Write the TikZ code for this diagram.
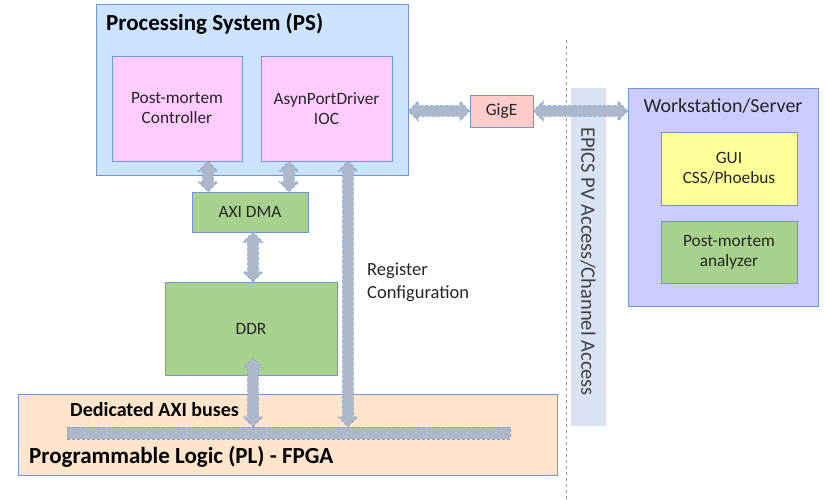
\documentclass[tikz,border=0pt]{standalone}
\usepackage{fontspec}
\setmainfont{Carlito}
\usetikzlibrary{shapes.arrows,calc}

\definecolor{psfill}{HTML}{CCE4FF}
\definecolor{edge}{HTML}{7096D6}
\definecolor{pinkfill}{HTML}{FFCCFF}
\definecolor{greenfill}{HTML}{A9D18E}
\definecolor{plfill}{HTML}{FFE5CC}
\definecolor{gigefill}{HTML}{FFCCCC}
\definecolor{wsfill}{HTML}{CCCCFF}
\definecolor{guifill}{HTML}{FFFF99}
\definecolor{bandfill}{HTML}{DAE3F3}
\definecolor{arrowfill}{HTML}{ADB9CA}
\definecolor{arrowedge}{HTML}{7F9FD8}
\definecolor{ink}{HTML}{262626}
\definecolor{bandink}{HTML}{404040}

\tikzset{
  box/.style={draw=edge, line width=0.8pt, inner sep=0pt, align=center, text=ink,
    font=\fontsize{17.3}{20}\selectfont},
  boldlabel/.style={text=black, inner sep=0pt},
  plainlabel/.style={text=ink, inner sep=0pt, font=\fontsize{18.5}{22.5}\selectfont},
  dblarr/.style={double arrow, fill=arrowfill, draw=arrowedge, densely dashed,
    line width=0.6pt, inner xsep=0pt, inner ysep=5pt, double arrow head extend=4.5pt},
  divider/.style={draw=gray!80, dashed, line width=0.6pt}
}

% block double arrow between two points
\newcommand\blockarrow[2]{%
  \path let \p1=(#1), \p2=(#2),
    \n1={veclen(\x2-\x1,\y2-\y1)}, \n2={atan2(\y2-\y1,\x2-\x1)} in
    node[dblarr, minimum height=\n1, rotate=\n2] at ($(\p1)!0.5!(\p2)$) {};}

\begin{document}
\begin{tikzpicture}[x=1pt,y=-1pt]
\useasboundingbox (0,0) rectangle (825,499);

% network boundary
\coordinate (divtop) at (566,40);
\coordinate (divbot) at (566,499);
\draw[divider] (divtop) -- (divbot);

% protocol band
\node[fill=bandfill, minimum width=35pt, minimum height=338pt, inner sep=0pt] (band) at (588.5,257) {};
\node[text=bandink, rotate=-90, inner sep=0pt, font=\fontsize{20.5}{24}\selectfont] (bandtext) at (588,261.5) {EPICS PV Access/Channel Access};

% processing system
\node[box, fill=psfill, minimum width=312pt, minimum height=171pt] (ps) at (252,89.5) {};
\node[boldlabel, anchor=west, font=\bfseries\fontsize{23}{27}\selectfont] (pstitle) at (106,24) {Processing System (PS)};
\node[box, fill=pinkfill, minimum width=130pt, minimum height=105pt] (pm) at (177,108.5) {Post-mortem\\Controller};
\node[box, fill=pinkfill, minimum width=131pt, minimum height=105pt] (asyn) at (326.5,108.5) {AsynPortDriver\\IOC};

% memory path
\node[box, fill=greenfill, minimum width=116pt, minimum height=40pt] (dma) at (250,212) {AXI DMA};
\node[box, fill=greenfill, minimum width=172pt, minimum height=93pt] (ddr) at (251,328.5) {DDR};

% programmable logic
\node[box, fill=plfill, minimum width=539pt, minimum height=81pt] (pl) at (288,434.5) {};
\node[fill=arrowfill, draw=arrowedge, densely dashed, line width=0.6pt, minimum width=443pt, minimum height=12pt, inner sep=0pt] (bus) at (288.5,433) {};
\node[boldlabel, anchor=west, font=\bfseries\fontsize{20}{24}\selectfont] (axilabel) at (70,410) {Dedicated AXI buses};
\node[boldlabel, anchor=west, font=\bfseries\fontsize{23}{27}\selectfont] (pllabel) at (29,457) {Programmable Logic (PL) - FPGA};

\node[plainlabel, anchor=west, align=left] (reglabel) at (367,282) {Register\\Configuration};

% network side
\node[box, fill=gigefill, minimum width=63pt, minimum height=32pt] (gige) at (501.5,111) {GigE};
\node[box, fill=wsfill, minimum width=190pt, minimum height=218pt] (ws) at (723,197) {};
\node[text=ink, inner sep=0pt, font=\fontsize{20}{24}\selectfont] (wstitle) at (723,106) {Workstation/Server};
\node[box, fill=guifill, minimum width=136pt, minimum height=73pt] (gui) at (729,168.5) {GUI\\CSS/Phoebus};
\node[box, fill=greenfill, minimum width=136pt, minimum height=62pt] (pma) at (729,252) {Post-mortem\\analyzer};

% connectors
\coordinate (c1) at (208,0);
\coordinate (c2) at (289,0);
\coordinate (c3) at (253,0);
\coordinate (c4) at (348,0);
\coordinate (ddrport) at (253,358);

\blockarrow{c1 |- pm.south}{c1 |- dma.north}
\blockarrow{c2 |- asyn.south}{c2 |- dma.north}
\blockarrow{c3 |- dma.south}{c3 |- ddr.north}
\blockarrow{ddrport}{c3 |- bus.north}
\blockarrow{c4 |- asyn.south}{c4 |- bus.north}
\blockarrow{ps.east |- gige.west}{gige.west}
\blockarrow{gige.east}{ws.west |- gige.east}
\end{tikzpicture}
\end{document}
